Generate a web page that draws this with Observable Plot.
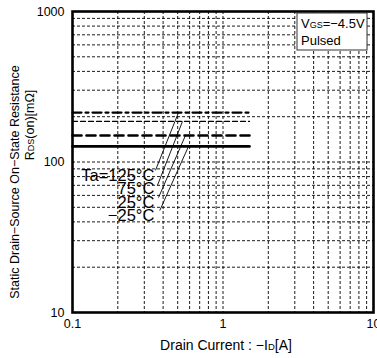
<!DOCTYPE html>
<html>
<head>
<meta charset="utf-8">
<script src="https://cdn.jsdelivr.net/npm/d3@7"></script>
<script src="https://cdn.jsdelivr.net/npm/@observablehq/plot@0.6"></script>
<style>
  html, body { margin: 0; padding: 0; background: #fff; overflow: hidden; }
  #chart { width: 377px; height: 358px; }
</style>
</head>
<body>
<div id="chart"></div>
<script>
// ---- data ----
const temps = ["125°C", "75°C", "25°C", "−25°C"];
const labelTexts = ["Ta=125°C", "75°C", "25°C", "−25°C"];
const rdsValues = [213, 186, 150, 127];           // mΩ, flat lines
const currentStart = 0.1;                          // A
const currentEnd = 1.5;                            // A
const labelX = [0.35, 0.35, 0.35, 0.35];
const labelY = [81, 66, 54, 44.2];
const leaderStartX = [0.356, 0.367, 0.373, 0.38];
const leaderStartY = [88, 70, 58, 47.6];
const leaderEndX = [0.506, 0.538, 0.563, 0.59];
const xTicks = [0.1, 1, 10];
const yTicks = [10, 100, 1000];
const xGrid = [0.2, 0.3, 0.4, 0.5, 0.6, 0.7, 0.8, 0.9, 1, 2, 3, 4, 5, 6, 7, 8, 9];
const yGrid = [20, 30, 40, 50, 60, 70, 80, 90, 100, 200, 300, 400, 500, 600, 700, 800, 900];

const styles = [
  {strokeWidth: 2.2, strokeDasharray: "9,4,3,4"},
  {strokeWidth: 1.3, strokeDasharray: "5,3"},
  {strokeWidth: 2.6, strokeDasharray: "9,5"},
  {strokeWidth: 2.6, strokeDasharray: null}
];

const lineMarks = temps.map((t, i) => {
  const rows = [{x: currentStart, y: rdsValues[i]}, {x: currentEnd, y: rdsValues[i]}];
  const opt = {x: "x", y: "y", stroke: "black", strokeWidth: styles[i].strokeWidth};
  if (styles[i].strokeDasharray) opt.strokeDasharray = styles[i].strokeDasharray;
  return Plot.line(rows, opt);
});

const labelRows = labelTexts.map((t, i) => ({t, x: labelX[i], y: labelY[i]}));
const leaderRows = temps.map((t, i) => ({x1: leaderStartX[i], y1: leaderStartY[i], x2: leaderEndX[i], y2: rdsValues[i]}));

const plot = Plot.plot({
  width: 377,
  height: 358,
  marginLeft: 72,
  marginRight: 4,
  marginTop: 11,
  marginBottom: 46,
  style: {fontFamily: "Liberation Sans, Arial, sans-serif", fontSize: "12.5px", background: "white", overflow: "visible"},
  x: {type: "log", domain: [0.1, 10]},
  y: {type: "log", domain: [10, 1000]},
  marks: [
    Plot.gridX(xGrid, {stroke: "black", strokeOpacity: 1, strokeWidth: 0.9, strokeDasharray: "3,2"}),
    Plot.gridY(yGrid, {stroke: "black", strokeOpacity: 1, strokeWidth: 0.9, strokeDasharray: "3,2"}),
    ...lineMarks,
    Plot.link(leaderRows, {x1: "x1", y1: "y1", x2: "x2", y2: "y2", stroke: "black", strokeWidth: 0.9}),
    Plot.text(labelRows, {x: "x", y: "y", text: "t", textAnchor: "end", fontSize: 16.5, fill: "black"}),
    Plot.frame({stroke: "black", strokeWidth: 2.6}),
    Plot.axisX(xTicks, {tickSize: 0, tickPadding: 7, tickFormat: d => String(d), label: null, fontSize: 12.5}),
    Plot.axisY(yTicks, {tickSize: 0, tickPadding: 8, tickFormat: d => String(d), label: null, fontSize: 12.5})
  ]
});

document.getElementById("chart").appendChild(plot);

// ---- titles & legend box ----
const svg = d3.select(plot);
const font = "Liberation Sans, Arial, sans-serif";

const xt = svg.append("text")
  .attr("x", 226).attr("y", 350)
  .attr("text-anchor", "middle")
  .attr("font-family", font).attr("font-size", 14).attr("fill", "black");
xt.append("tspan").text("Drain Current : −I");
xt.append("tspan").attr("font-size", 9.5).text("D");
xt.append("tspan").text("[A]");

svg.append("text")
  .attr("transform", "translate(19,182) rotate(-90)")
  .attr("text-anchor", "middle")
  .attr("font-family", font).attr("font-size", 12.5).attr("fill", "black")
  .text("Static Drain−Source On−State Resistance");

const yt2 = svg.append("text")
  .attr("transform", "translate(34,125) rotate(-90)")
  .attr("text-anchor", "middle")
  .attr("font-family", font).attr("font-size", 12.5).attr("fill", "black");
yt2.append("tspan").text("R");
yt2.append("tspan").attr("font-size", 9).text("DS");
yt2.append("tspan").text("(on)[mΩ]");

const box = svg.append("g");
box.append("rect")
  .attr("x", 297).attr("y", 13).attr("width", 70).attr("height", 37)
  .attr("fill", "white").attr("stroke", "#333").attr("stroke-width", 1);
const l1 = box.append("text")
  .attr("x", 301).attr("y", 28)
  .attr("text-anchor", "start")
  .attr("font-family", font).attr("font-size", 13).attr("fill", "black");
l1.append("tspan").text("V");
l1.append("tspan").attr("font-size", 9).text("GS");
l1.append("tspan").text("=−4.5V");
box.append("text")
  .attr("x", 301).attr("y", 45)
  .attr("text-anchor", "start")
  .attr("font-family", font).attr("font-size", 13).attr("fill", "black")
  .text("Pulsed");
</script>
</body>
</html>
